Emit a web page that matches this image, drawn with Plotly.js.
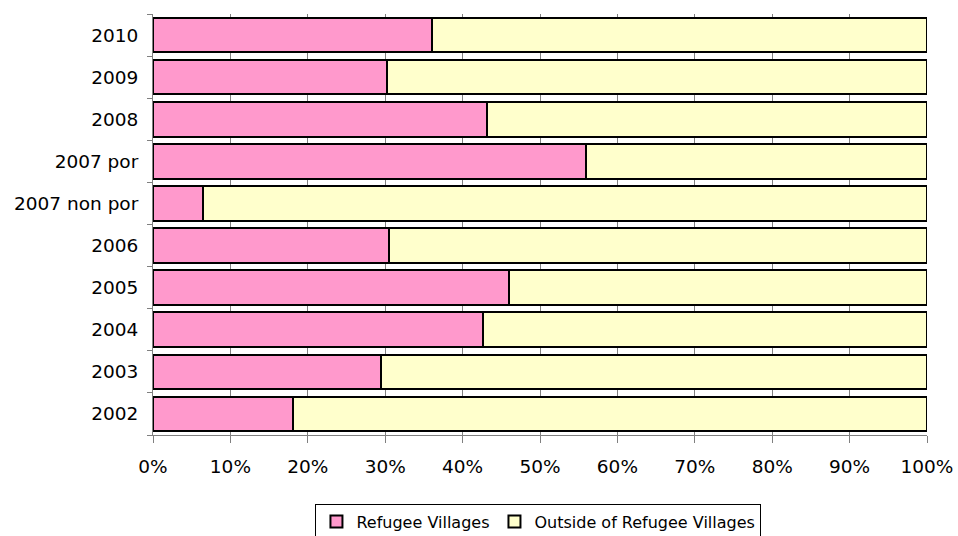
<!DOCTYPE html>
<html>
<head>
<meta charset="utf-8">
<script src="https://cdn.plot.ly/plotly-3.0.1.min.js"></script>
<style>html,body{margin:0;padding:0;background:#fff;}#chart{width:958px;height:536px;}</style>
</head>
<body>
<div id="chart"></div>
<script>
const categories = ["2002", "2003", "2004", "2005", "2006", "2007 non por", "2007 por", "2008", "2009", "2010"];
const refugeeVillages = [18.1, 29.5, 42.6, 46.0, 30.5, 6.4, 56.0, 43.1, 30.2, 36.1];
const outsideVillages = [81.9, 70.5, 57.4, 54.0, 69.5, 93.6, 44.0, 56.9, 69.8, 63.9];
const seriesNames = ["Refugee Villages", "Outside of Refugee Villages"];
const tickValues = [0, 10, 20, 30, 40, 50, 60, 70, 80, 90, 100];

const font = "DejaVu Sans, Verdana, sans-serif";

const traces = [
  {
    type: "bar", orientation: "h", name: seriesNames[0],
    y: categories, x: refugeeVillages,
    marker: {color: "#FF99CC", line: {color: "#000000", width: 2}},
    hoverinfo: "x+y"
  },
  {
    type: "bar", orientation: "h", name: seriesNames[1],
    y: categories, x: outsideVillages,
    marker: {color: "#FFFFCC", line: {color: "#000000", width: 2}},
    hoverinfo: "x+y"
  }
];

const layout = {
  width: 958, height: 536,
  margin: {l: 153, r: 31, t: 14, b: 101, pad: 0, autoexpand: false},
  paper_bgcolor: "#ffffff", plot_bgcolor: "#ffffff",
  barmode: "stack", bargap: 0.18,
  font: {family: font, size: 18, color: "#000000"},
  xaxis: {
    range: [0, 100], tickvals: tickValues, ticktext: tickValues.map(v => v + "%"),
    showgrid: true, gridcolor: "#808080", gridwidth: 1,
    zeroline: false, showline: true, linecolor: "#808080", linewidth: 1,
    ticks: "outside", ticklen: 7, tickcolor: "#808080", tickwidth: 1,
    ticklabelstandoff: 8,
    tickfont: {family: font, size: 18.5, color: "#000000"},
    automargin: false,
    fixedrange: true
  },
  yaxis: {
    type: "category", categoryorder: "array", categoryarray: categories,
    showgrid: false, zeroline: false,
    showline: true, linecolor: "#808080", linewidth: 1,
    ticks: "outside", tickson: "boundaries", ticklen: 5, tickcolor: "#808080", tickwidth: 1,
    ticklabelstandoff: 10,
    tickfont: {family: font, size: 18.5, color: "#000000"},
    automargin: false,
    fixedrange: true
  },
  legend: {
    orientation: "h", x: 0.498, xanchor: "center", y: -0.163, yanchor: "top",
    bordercolor: "#000000", borderwidth: 1, bgcolor: "#ffffff",
    font: {family: font, size: 16, color: "#000000"},
    itemwidth: 30, tracegroupgap: 0, traceorder: "normal"
  },
  showlegend: true
};

Plotly.newPlot("chart", traces, layout, {displayModeBar: false, staticPlot: true});
</script>
</body>
</html>
